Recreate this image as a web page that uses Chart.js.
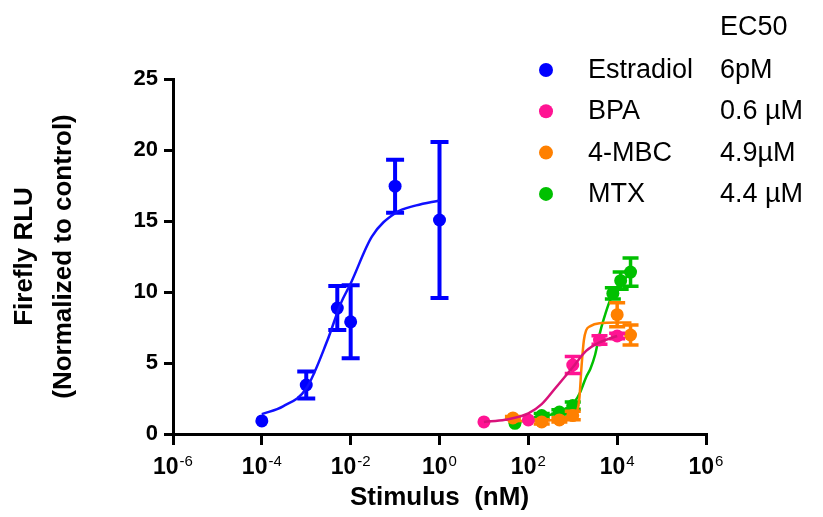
<!DOCTYPE html>
<html>
<head>
<meta charset="utf-8">
<script src="https://cdn.jsdelivr.net/npm/chart.js@4"></script>
<style>
  html, body { margin: 0; padding: 0; background: #fff; }
  canvas { display: block; }
</style>
</head>
<body>
<canvas id="myChart" width="823" height="517"></canvas>
<script>

// axis ticks
const xTickValues = [1e-6, 1e-4, 1e-2, 1, 1e2, 1e4, 1e6];
const xTickExps = ['-6', '-4', '-2', '0', '2', '4', '6'];
const yTicks = [0, 5, 10, 15, 20, 25];

// legend
const compounds = ['Estradiol', 'BPA', '4-MBC', 'MTX'];
const ec50Labels = ['6pM', '0.6 µM', '4.9µM', '4.4 µM'];
const colors = ['#0000FF', '#FF1493', '#FF8000', '#00C000'];
const lineColors = ['#1010FF', '#D8127A', '#FF8000', '#00C000'];

// measured points: dose (nM), RLU, error
const estradiolDose = [1e-4, 1e-3, 5e-3, 1e-2, 1e-1, 1];
const estradiolRLU = [0.92, 3.45, 8.87, 7.9, 17.45, 15.07];
const estradiolErr = [0, 0.95, 1.55, 2.57, 1.87, 5.5];

const bpaDose = [10, 100, 1000, 4000, 10000];
const bpaRLU = [0.85, 0.99, 4.86, 6.62, 6.9];
const bpaErr = [0, 0, 0.6, 0.3, 0.2];

const mbcDose = [45, 200, 500, 1000, 10000, 20000];
const mbcRLU = [1.13, 0.85, 0.99, 1.3, 8.4, 6.97];
const mbcErr = [0.1, 0.15, 0.15, 0.3, 0.85, 0.7];

const mtxDose = [50, 200, 500, 1000, 8000, 12000, 20000];
const mtxRLU = [0.75, 1.3, 1.55, 2.0, 9.9, 10.8, 11.4];
const mtxErr = [0, 0.15, 0.15, 0.25, 0.4, 0.6, 1.0];

// fitted curves
const estradiolFitDose = [1e-4, 3e-4, 1e-3, 3e-3, 6e-3, 1e-2, 3e-2, 1e-1, 3e-1, 1];
const estradiolFitRLU = [1.4, 1.95, 3.2, 6.6, 9.2, 10.6, 13.9, 15.55, 16.1, 16.45];

const bpaFitDose = [10, 30, 100, 200, 400, 1000, 2000, 4000, 10000];
const bpaFitRLU = [0.85, 1.0, 1.45, 2.1, 3.2, 4.7, 5.85, 6.45, 6.9];

const mbcFitDose = [45, 200, 500, 1000, 1260, 1410, 1580, 1780, 2000, 2500, 4000, 10000, 21000];
const mbcFitRLU = [0.9, 0.95, 1.0, 1.2, 1.6, 2.5, 4.8, 6.6, 7.3, 7.6, 7.8, 7.85, 7.85];

const mtxFitDose = [50, 200, 510, 1120, 1450, 2000, 2500, 3200, 4000, 5000, 6900, 10000, 21000];
const mtxFitRLU = [0.8, 1.2, 1.57, 2.3, 2.9, 4.0, 4.6, 5.6, 7.0, 8.1, 9.4, 10.3, 11.4];


function pts(xs, ys) {
  return xs.map((x, i) => ({ x: x, y: ys[i] }));
}

function pointSet(i, xs, ys, errs, order) {
  return {
    label: compounds[i],
    data: pts(xs, ys),
    errors: errs,
    showLine: false,
    pointRadius: 6.5,
    pointBackgroundColor: colors[i],
    pointBorderColor: colors[i],
    pointBorderWidth: 0,
    order: order
  };
}

function curveSet(i, xs, ys, order) {
  return {
    label: compounds[i] + ' fit',
    data: pts(xs, ys),
    showLine: true,
    borderColor: lineColors[i],
    borderWidth: 2.5,
    pointRadius: 0,
    cubicInterpolationMode: 'monotone',
    order: order
  };
}

const FONT = '"Liberation Sans", Arial, sans-serif';

// error bars drawn through the scales
const errorBars = {
  id: 'errorBars',
  afterDatasetDraw(chart, args) {
    const ds = chart.data.datasets[args.index];
    if (!ds.errors) return;
    const ctx = chart.ctx;
    const ys = chart.scales.y;
    const half = args.index === 1 ? 9 : 8;
    ctx.save();
    ctx.strokeStyle = ds.pointBackgroundColor;
    ctx.lineWidth = args.index === 1 ? 4 : 3.5;
    args.meta.data.forEach((el, j) => {
      const v = ds.data[j].y, e = ds.errors[j];
      if (!(e > 0)) return;
      const top = ys.getPixelForValue(v + e);
      const bot = ys.getPixelForValue(v - e);
      ctx.beginPath();
      ctx.moveTo(el.x, top); ctx.lineTo(el.x, bot);
      ctx.moveTo(el.x - half, top); ctx.lineTo(el.x + half, top);
      ctx.moveTo(el.x - half, bot); ctx.lineTo(el.x + half, bot);
      ctx.stroke();
    });
    ctx.restore();
  }
};

// 10^n tick labels
const powerLabels = {
  id: 'powerLabels',
  afterDraw(chart) {
    const ctx = chart.ctx, xs = chart.scales.x;
    ctx.save();
    ctx.fillStyle = '#000';
    ctx.textBaseline = 'alphabetic';
    xTickValues.forEach((v, i) => {
      const px = xs.getPixelForValue(v);
      ctx.font = 'bold 23px ' + FONT;
      const wBase = ctx.measureText('10').width;
      ctx.font = '15px ' + FONT;
      const wExp = ctx.measureText(xTickExps[i]).width;
      const x0 = px - (wBase + wExp + 1) / 2;
      ctx.font = 'bold 23px ' + FONT;
      ctx.fillText('10', x0, 474);
      ctx.font = '15px ' + FONT;
      ctx.fillText(xTickExps[i], x0 + wBase + 1, 466);
    });
    ctx.restore();
  }
};

// legend with EC50 column
const ec50Legend = {
  id: 'ec50Legend',
  afterDraw(chart) {
    const ctx = chart.ctx;
    ctx.save();
    ctx.font = '27px ' + FONT;
    ctx.fillStyle = '#000';
    ctx.textBaseline = 'alphabetic';
    ctx.fillText('EC50', 720, 35);
    compounds.forEach((name, i) => {
      const y = 68 + i * 41.3;
      ctx.fillStyle = colors[i];
      ctx.beginPath();
      ctx.arc(546, y + 2, 7, 0, Math.PI * 2);
      ctx.fill();
      ctx.fillStyle = '#000';
      ctx.fillText(name, 588, y + 10);
      ctx.fillText(ec50Labels[i], 720, y + 10);
    });
    ctx.restore();
  }
};

const ctx = document.getElementById('myChart');

new Chart(ctx, {
  type: 'scatter',
  data: {
    datasets: [
      curveSet(0, estradiolFitDose, estradiolFitRLU, 1),
      pointSet(0, estradiolDose, estradiolRLU, estradiolErr, 2),
      curveSet(1, bpaFitDose, bpaFitRLU, 3),
      pointSet(1, bpaDose, bpaRLU, bpaErr, 4),
      curveSet(2, mbcFitDose, mbcFitRLU, 5),
      pointSet(2, mbcDose, mbcRLU, mbcErr, 6),
      curveSet(3, mtxFitDose, mtxFitRLU, 7),
      pointSet(3, mtxDose, mtxRLU, mtxErr, 8)
    ]
  },
  options: {
    responsive: false,
    animation: false,
    devicePixelRatio: 1,
    layout: {
      padding: { top: 79, right: 117, bottom: 0, left: 0 }
    },
    scales: {
      x: {
        type: 'logarithmic',
        min: 1e-6,
        max: 1e6,
        afterBuildTicks: (scale) => {
          scale.ticks = xTickValues.map(v => ({ value: v }));
        },
        afterFit: (scale) => { scale.height = 83; },
        ticks: { display: false },
        grid: {
          drawOnChartArea: false,
          color: '#000',
          lineWidth: 3,
          tickLength: 11
        },
        border: { color: '#000', width: 3 },
        title: {
          display: true,
          text: 'Stimulus  (nM)',
          color: '#000',
          font: { family: FONT, size: 26, weight: 'bold', lineHeight: 1.2 },
          padding: { top: 0, bottom: 4 }
        }
      },
      y: {
        min: 0,
        max: 25,
        afterBuildTicks: (scale) => {
          scale.ticks = yTicks.map(v => ({ value: v }));
        },
        afterFit: (scale) => { scale.width = 173; },
        ticks: {
          color: '#000',
          padding: 6,
          font: { family: FONT, size: 22, weight: 'bold' }
        },
        grid: {
          drawOnChartArea: false,
          color: '#000',
          lineWidth: 3,
          tickLength: 9
        },
        border: { color: '#000', width: 3 },
        title: {
          display: true,
          text: ['Firefly RLU', '(Normalized to control)'],
          color: '#000',
          font: { family: FONT, size: 26, weight: 'bold', lineHeight: 1.5 },
          padding: { top: 5, bottom: 0 }
        }
      }
    },
    plugins: {
      legend: { display: false },
      tooltip: { enabled: false }
    }
  },
  plugins: [errorBars, powerLabels, ec50Legend]
});

</script>
</body>
</html>
